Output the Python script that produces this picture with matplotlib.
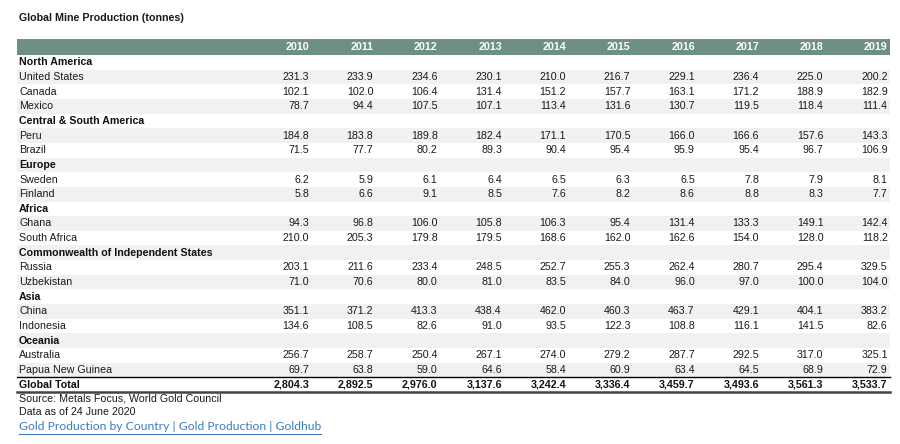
import matplotlib
matplotlib.use("Agg")
import matplotlib.pyplot as plt

years = ["2010", "2011", "2012", "2013", "2014", "2015", "2016", "2017", "2018", "2019"]

# (label, values) ; values None -> region heading
north_america = [
    ("United States", [231.3, 233.9, 234.6, 230.1, 210.0, 216.7, 229.1, 236.4, 225.0, 200.2]),
    ("Canada", [102.1, 102.0, 106.4, 131.4, 151.2, 157.7, 163.1, 171.2, 188.9, 182.9]),
    ("Mexico", [78.7, 94.4, 107.5, 107.1, 113.4, 131.6, 130.7, 119.5, 118.4, 111.4]),
]
central_south_america = [
    ("Peru", [184.8, 183.8, 189.8, 182.4, 171.1, 170.5, 166.0, 166.6, 157.6, 143.3]),
    ("Brazil", [71.5, 77.7, 80.2, 89.3, 90.4, 95.4, 95.9, 95.4, 96.7, 106.9]),
]
europe = [
    ("Sweden", [6.2, 5.9, 6.1, 6.4, 6.5, 6.3, 6.5, 7.8, 7.9, 8.1]),
    ("Finland", [5.8, 6.6, 9.1, 8.5, 7.6, 8.2, 8.6, 8.8, 8.3, 7.7]),
]
africa = [
    ("Ghana", [94.3, 96.8, 106.0, 105.8, 106.3, 95.4, 131.4, 133.3, 149.1, 142.4]),
    ("South Africa", [210.0, 205.3, 179.8, 179.5, 168.6, 162.0, 162.6, 154.0, 128.0, 118.2]),
]
cis = [
    ("Russia", [203.1, 211.6, 233.4, 248.5, 252.7, 255.3, 262.4, 280.7, 295.4, 329.5]),
    ("Uzbekistan", [71.0, 70.6, 80.0, 81.0, 83.5, 84.0, 96.0, 97.0, 100.0, 104.0]),
]
asia = [
    ("China", [351.1, 371.2, 413.3, 438.4, 462.0, 460.3, 463.7, 429.1, 404.1, 383.2]),
    ("Indonesia", [134.6, 108.5, 82.6, 91.0, 93.5, 122.3, 108.8, 116.1, 141.5, 82.6]),
]
oceania = [
    ("Australia", [256.7, 258.7, 250.4, 267.1, 274.0, 279.2, 287.7, 292.5, 317.0, 325.1]),
    ("Papua New Guinea", [69.7, 63.8, 59.0, 64.6, 58.4, 60.9, 63.4, 64.5, 68.9, 72.9]),
]
global_total = [2804.3, 2892.5, 2976.0, 3137.6, 3242.4, 3336.4, 3459.7, 3493.6, 3561.3, 3533.7]

regions = [
    ("North America", north_america),
    ("Central & South America", central_south_america),
    ("Europe", europe),
    ("Africa", africa),
    ("Commonwealth of Independent States", cis),
    ("Asia", asia),
    ("Oceania", oceania),
]

rows = []
for name, countries in regions:
    rows.append((name, None))
    rows.extend(countries)

font = "Liberation Sans"
fs = 7.7
header_col = "#6e9080"
shade = "#f1f1f1"
txt = "#1a1a1a"

fig = plt.figure(figsize=(9, 4.44), dpi=100)
ax = fig.add_axes([0, 0, 1, 1])
ax.set_xlim(0, 900)
ax.set_ylim(444, 0)
ax.axis("off")

left, right = 17, 890
label_x = 19
col_right = [309 + 64.3 * i for i in range(len(years))]
row_h = 14.65
top = 55.0

ax.text(label_x, 18, "Global Mine Production (tonnes)", fontsize=fs, fontweight="bold",
        family=font, va="center", ha="left", color=txt)

# header bar
ax.fill_between([left, right], 39, top, color=header_col, lw=0)
for x, yr in zip(col_right, years):
    ax.text(x, 47.5, yr, fontsize=fs, fontweight="bold", color="white", family=font,
            ha="right", va="center")

for i, (label, vals) in enumerate(rows):
    y0 = top + i * row_h
    yc = y0 + row_h / 2
    if i % 2 == 1:
        ax.fill_between([left, right], y0, y0 + row_h, color=shade, lw=0)
    if vals is None:
        ax.text(label_x, yc, label, fontsize=fs, fontweight="bold", family=font,
                ha="left", va="center", color="#111111")
    else:
        ax.text(label_x, yc, label, fontsize=fs, family=font, ha="left", va="center",
                color=txt)
        for x, v in zip(col_right, vals):
            ax.text(x, yc, f"{v:.1f}", fontsize=fs, family=font, ha="right",
                    va="center", color=txt)

# global total
i = len(rows)
y0 = top + i * row_h
yc = y0 + row_h / 2
ax.plot([left, right], [y0, y0], color="black", lw=1.0)
ax.plot([left, right], [y0 + row_h, y0 + row_h], color="#444444", lw=1.8)
ax.text(label_x, yc, "Global Total", fontsize=fs, fontweight="bold", family=font,
        ha="left", va="center", color="#111111")
for x, v in zip(col_right, global_total):
    ax.text(x, yc, f"{v:,.1f}", fontsize=fs, fontweight="bold", family=font,
            ha="right", va="center", color="#111111")

# notes
ax.text(label_x, 398, "Source: Metals Focus, World Gold Council", fontsize=fs, family=font,
        ha="left", va="center", color=txt)
ax.text(label_x, 412, "Data as of 24 June 2020", fontsize=fs, family=font,
        ha="left", va="center", color=txt)
link = ax.text(label_x, 426, "Gold Production by Country | Gold Production | Goldhub",
               fontsize=8.7, family="Lato", ha="left", va="center", color="#3c7bc6")
fig.canvas.draw()
bb = link.get_window_extent().transformed(ax.transData.inverted())
ax.plot([bb.x0, bb.x1], [433.5, 433.5], color="#3c7bc6", lw=0.8)

fig.savefig("out.png", dpi=100)
